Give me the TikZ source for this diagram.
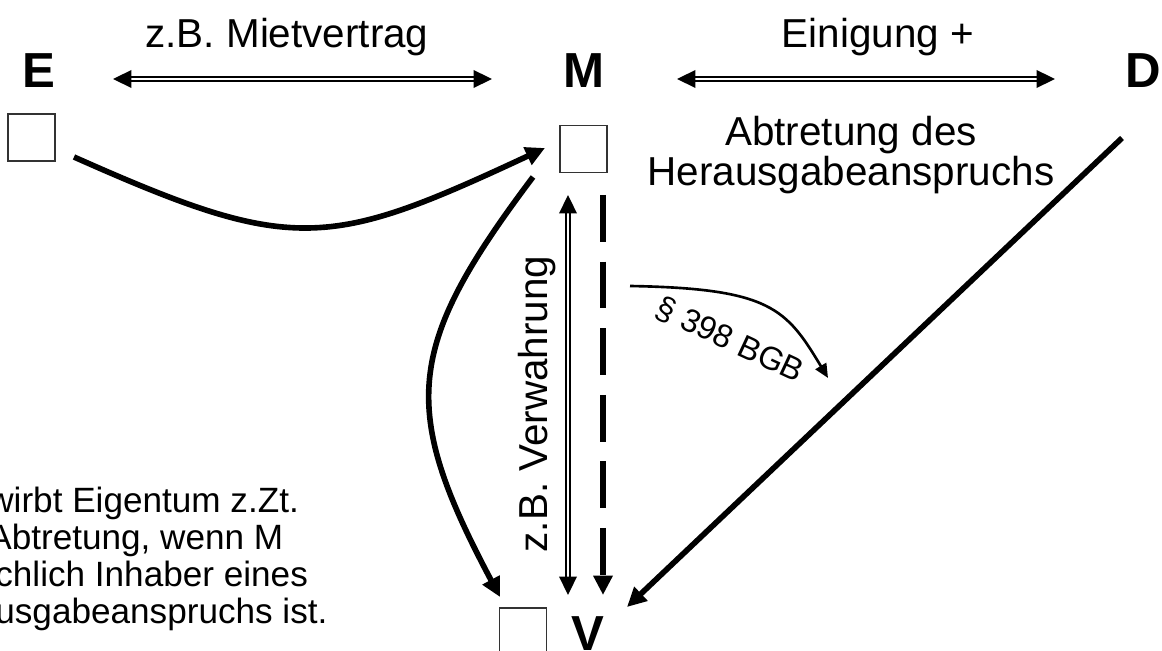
\documentclass[tikz,border=0pt]{standalone}
\usepackage{fontspec}
\setmainfont{Liberation Sans}
\usetikzlibrary{arrows.meta}

\begin{document}
\begin{tikzpicture}[x=0.02cm, y=-0.02cm,
    party/.style={font=\fontsize{28}{30}\selectfont\bfseries, inner sep=0pt, anchor=base},
    thing/.style={draw=black!80, line width=0.8pt, minimum size=0.94cm, inner sep=0pt},
    lbl/.style={font=\fontsize{23}{22.76}\selectfont, inner sep=0pt},
    relation/.style={double, line width=1pt, double distance=1.3pt,
        {Triangle[length=10.5pt,width=10pt]}-{Triangle[length=10.5pt,width=10pt]}},
    transfer/.style={line width=3.2pt, -{Triangle[length=11pt,width=10.5pt]}}]
    \useasboundingbox (0,0) rectangle (1162,651);
    \clip (0,0) rectangle (1162,651);

    % parties
    \node[party] (E) at (39,88) {E};
    \node[party] (M) at (584,88) {M};
    \node[party] (D) at (1143,88) {D};
    \node[party] (V) at (588,650) {V};

    % possession boxes
    \node[thing] (eb) at (31.5,137.5) {};
    \node[thing] (mb) at (583.5,149) {};
    \node[thing] (vb) at (523,631.5) {};

    % labels
    \node[lbl, anchor=base] (miete) at (287,48) {z.B. Mietvertrag};
    \node[lbl, anchor=base] (einig) at (878,48) {Einigung +};
    \node[lbl, anchor=north, align=center] (abtr) at (851,116) {Abtretung des\\Herausgabeanspruchs};
    \node[lbl, anchor=base, rotate=90] (verw) at (547,404) {z.B. Verwahrung};
    \node[font=\fontsize{18.5}{20}\selectfont, rotate=-25, inner sep=0pt] (bgb) at (730,340) {§ 398 BGB};
    \node[font=\fontsize{20}{21}\selectfont, align=left, anchor=north west, inner sep=0pt] (note) at (-12,487)
        {wirbt Eigentum z.Zt.\\Abtretung, wenn M\\\hspace*{4pt}chlich Inhaber eines\\\hspace*{4pt}usgabeanspruchs ist.};

    % connector ends
    \coordinate (em1) at (113,79);
    \coordinate (em2) at (492,79);
    \coordinate (md1) at (677,79);
    \coordinate (md2) at (1055,79);
    \coordinate (e-out) at (74,157);
    \coordinate (m-in) at (545,148);
    \coordinate (m-out) at (533,177);
    \coordinate (v-in1) at (500,597);
    \coordinate (mv-top) at (568,195);
    \coordinate (mv-bot) at (568,595);
    \coordinate (dash-top) at (603,195);
    \coordinate (v-in2) at (603,595);
    \coordinate (d-out) at (1122,138);
    \coordinate (v-in3) at (627,607);
    \coordinate (bgb-s) at (630,286);
    \coordinate (bgb-e) at (828,378);

    \draw[relation] (em1) -- (em2);
    \draw[relation] (md1) -- (md2);
    \draw[relation] (mv-bot) -- (mv-top);
    \draw[transfer] (e-out) to[out=-24, in=205, looseness=1.3] (m-in);
    \draw[transfer] (m-out) to[out=233, in=118, looseness=1.3] (v-in1);
    \draw[transfer, line width=3.4pt, dash pattern=on 26.6pt off 11.3pt] (dash-top) -- (v-in2);
    \draw[transfer] (d-out) -- (v-in3);
    \draw[line width=1.5pt, -{Triangle[length=8pt,width=7pt]}] (bgb-s) to[out=-1, in=121, out looseness=1.65, in looseness=0.95] (bgb-e);
\end{tikzpicture}
\end{document}
